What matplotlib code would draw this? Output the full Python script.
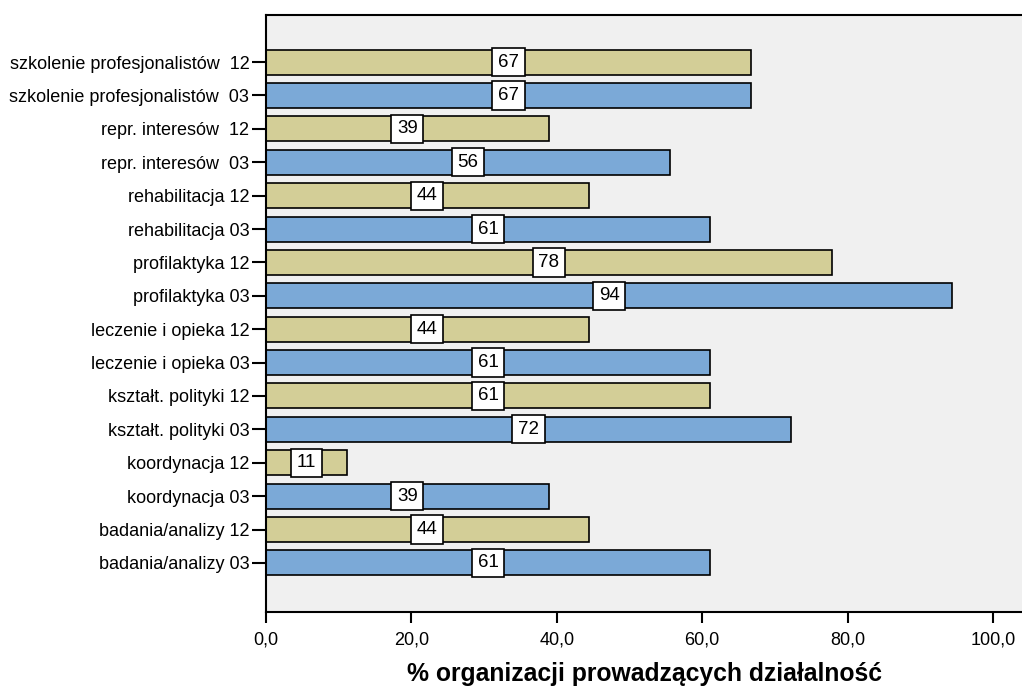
import matplotlib
matplotlib.use("Agg")
import matplotlib.pyplot as plt

categories = [
    "szkolenie profesjonalistów  12", "szkolenie profesjonalistów  03",
    "repr. interesów  12", "repr. interesów  03",
    "rehabilitacja 12", "rehabilitacja 03",
    "profilaktyka 12", "profilaktyka 03",
    "leczenie i opieka 12", "leczenie i opieka 03",
    "kształt. polityki 12", "kształt. polityki 03",
    "koordynacja 12", "koordynacja 03",
    "badania/analizy 12", "badania/analizy 03",
]
values = [66.7, 66.7, 38.9, 55.6, 44.4, 61.1, 77.8, 94.4,
          44.4, 61.1, 61.1, 72.2, 11.1, 38.9, 44.4, 61.1]
xticks = [0, 20, 40, 60, 80, 100]
xtick_labels = ["0,0", "20,0", "40,0", "60,0", "80,0", "100,0"]

plt.rcParams['font.family'] = ['Liberation Sans', 'DejaVu Sans']

fig = plt.figure(figsize=(10.22, 6.86), dpi=100)
ax = fig.add_axes([0.2603, 0.1079, 0.7397, 0.8702])
ax.set_facecolor('#F0F0F0')

colors = ['#D3CE97' if c.strip().endswith('12') else '#7BA9D7' for c in categories]
pos = list(range(len(categories)))
ax.barh(pos, values, height=0.75, color=colors, edgecolor='black', linewidth=1.2, zorder=2)

for p, v in zip(pos, values):
    ax.text(v / 2, p, f"{round(v):d}", ha='center', va='center', fontsize=13.5, zorder=3,
            bbox=dict(boxstyle='square,pad=0.3', facecolor='white', edgecolor='black', linewidth=1.2))

ax.set_yticks(pos)
ax.set_yticklabels(categories, fontsize=13)
ax.set_ylim(len(categories) - 1 + 1.47, -1.41)
ax.set_xlim(0, 104)
ax.set_xticks(xticks)
ax.set_xticklabels(xtick_labels, fontsize=13)
ax.tick_params(axis='x', length=8, width=1.5, direction='out', pad=6)
ax.tick_params(axis='y', length=10, width=1.5, direction='out', pad=2)
for s in ['left', 'bottom', 'top']:
    ax.spines[s].set_linewidth(1.5)
ax.spines['right'].set_visible(False)
ax.set_xlabel("% organizacji prowadzących działalność", fontsize=17.8, fontweight='bold', labelpad=10)

fig.savefig("out.png", dpi=100, facecolor='white')
